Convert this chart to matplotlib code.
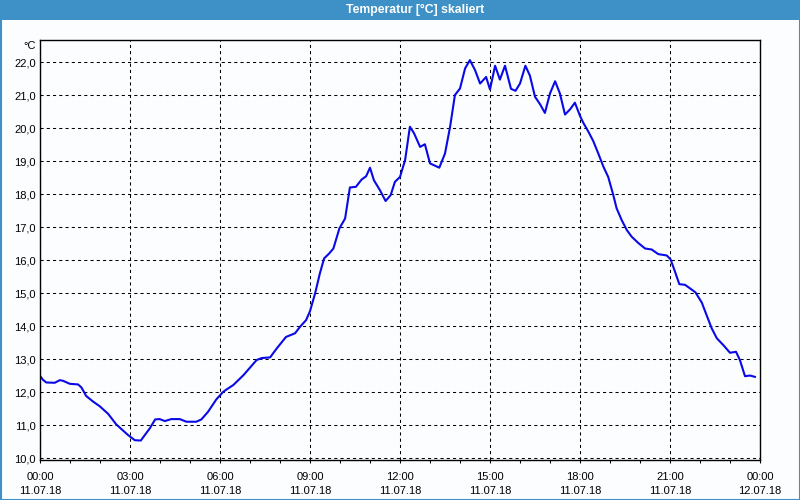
import matplotlib
matplotlib.use("Agg")
import matplotlib.pyplot as plt
from matplotlib.patches import Rectangle
from matplotlib.ticker import MultipleLocator, FixedLocator

# values (hours since 11.07.18 00:00, degC)
hours = [0.00, 0.10, 0.21, 0.49, 0.66, 0.77, 0.99, 1.27, 1.38, 1.54, 1.77, 1.99,
         2.27, 2.54, 2.93, 3.16, 3.36, 3.66, 3.84, 3.99, 4.16, 4.38, 4.66, 4.88,
         5.21, 5.38, 5.60, 5.88, 6.10, 6.22, 6.44, 6.78, 7.22, 7.39, 7.67, 7.89,
         8.20, 8.50, 8.67, 8.87, 9.00, 9.17, 9.33, 9.47, 9.64, 9.78, 9.98, 10.17,
         10.33, 10.53, 10.72, 10.87, 11.00, 11.13, 11.33, 11.52, 11.69, 11.83,
         12.00, 12.17, 12.33, 12.47, 12.67, 12.83, 13.00, 13.31, 13.50, 13.67,
         13.83, 14.00, 14.17, 14.33, 14.50, 14.67, 14.87, 15.00, 15.17, 15.33,
         15.50, 15.70, 15.85, 16.00, 16.18, 16.33, 16.50, 16.67, 16.83, 17.00,
         17.17, 17.33, 17.50, 17.67, 17.83, 18.00, 18.11, 18.28, 18.44, 18.61,
         18.78, 18.94, 19.11, 19.22, 19.39, 19.56, 19.72, 19.94, 20.17, 20.39,
         20.61, 20.89, 21.02, 21.17, 21.31, 21.50, 21.67, 21.85, 22.06, 22.22,
         22.39, 22.56, 22.78, 23.00, 23.20, 23.33, 23.50, 23.67, 23.83]
temps = [12.50, 12.38, 12.30, 12.29, 12.37, 12.35, 12.26, 12.24, 12.15, 11.89, 11.72, 11.58,
         11.35, 11.03, 10.71, 10.55, 10.54, 10.91, 11.18, 11.19, 11.13, 11.19, 11.19, 11.11,
         11.11, 11.18, 11.41, 11.79, 12.01, 12.09, 12.22, 12.52, 12.98, 13.04, 13.06, 13.33,
         13.68, 13.79, 13.99, 14.19, 14.46, 15.00, 15.61, 16.06, 16.21, 16.36, 16.97, 17.27,
         18.21, 18.23, 18.45, 18.55, 18.81, 18.43, 18.13, 17.80, 17.98, 18.38,
         18.53, 19.04, 20.05, 19.85, 19.44, 19.52, 18.94, 18.81, 19.24, 20.05,
         21.01, 21.21, 21.82, 22.07, 21.77, 21.36, 21.56, 21.18, 21.90, 21.48,
         21.90, 21.20, 21.14, 21.36, 21.90, 21.60, 20.96, 20.73, 20.47, 21.06,
         21.43, 21.06, 20.42, 20.58, 20.78, 20.38, 20.17, 19.90, 19.62, 19.24,
         18.84, 18.53, 17.98, 17.58, 17.22, 16.92, 16.72, 16.53, 16.36, 16.33,
         16.19, 16.15, 16.03, 15.65, 15.28, 15.26, 15.15, 15.03, 14.72, 14.34,
         13.94, 13.64, 13.43, 13.20, 13.23, 12.98, 12.49, 12.51, 12.47]

x_ticks = [0, 3, 6, 9, 12, 15, 18, 21, 24]
x_labels = ["00:00\n11.07.18", "03:00\n11.07.18", "06:00\n11.07.18",
            "09:00\n11.07.18", "12:00\n11.07.18", "15:00\n11.07.18",
            "18:00\n11.07.18", "21:00\n11.07.18", "00:00\n12.07.18"]
y_ticks = [10, 11, 12, 13, 14, 15, 16, 17, 18, 19, 20, 21, 22]
y_labels = ["%.1f" % v for v in y_ticks]
y_labels = [s.replace(".", ",") for s in y_labels]

title = "Temperatur [°C] skaliert"
bar_col = "#3d91c6"

plt.rcParams["font.family"] = ["Liberation Sans", "DejaVu Sans"]
plt.rcParams["font.size"] = 8

fig = plt.figure(figsize=(8, 5), dpi=100, facecolor="#fbfdff")
ax = fig.add_axes([40 / 800, 40 / 500, 720 / 800, 420 / 500])
ax.set_facecolor("#fbfdff")

ax.plot(hours, temps, color="#0a0ae6", lw=1.5, solid_joinstyle="round")

ax.set_xlim(0, 24)
ax.set_ylim(9.95, 22.68)
ax.xaxis.set_major_locator(FixedLocator(x_ticks))
ax.xaxis.set_minor_locator(MultipleLocator(1))
ax.set_xticks(x_ticks)
ax.set_xticklabels(x_labels, linespacing=1.55)
ax.set_yticks(y_ticks)
ax.set_yticklabels(y_labels)

ax.grid(True, which="major", color="black", lw=0.75, linestyle=(0, (3, 3)))
ax.tick_params(axis="x", which="both", direction="out", length=2.5, width=0.75,
               pad=6, colors="black")
ax.tick_params(axis="y", length=0, pad=3)
for s in ax.spines.values():
    s.set_linewidth(1.0)
    s.set_color("black")

fig.text(36 / 800, 1 - 46 / 500, "°C", ha="right", va="center", fontsize=8)

# title bar and window border
fig.patches.append(Rectangle((0, 1 - 20 / 500), 1, 20 / 500, transform=fig.transFigure,
                             facecolor=bar_col, edgecolor="none", zorder=0))
fig.patches.append(Rectangle((0.5 / 800, 0.5 / 500), 799 / 800, 499 / 500,
                             transform=fig.transFigure, facecolor="none",
                             edgecolor=bar_col, lw=1.5, zorder=5))
fig.text(415 / 800, 1 - 10 / 500, title, ha="center", va="center", color="white",
         fontsize=8.8, fontweight="bold")

fig.savefig("out.png", dpi=100, facecolor=fig.get_facecolor())
